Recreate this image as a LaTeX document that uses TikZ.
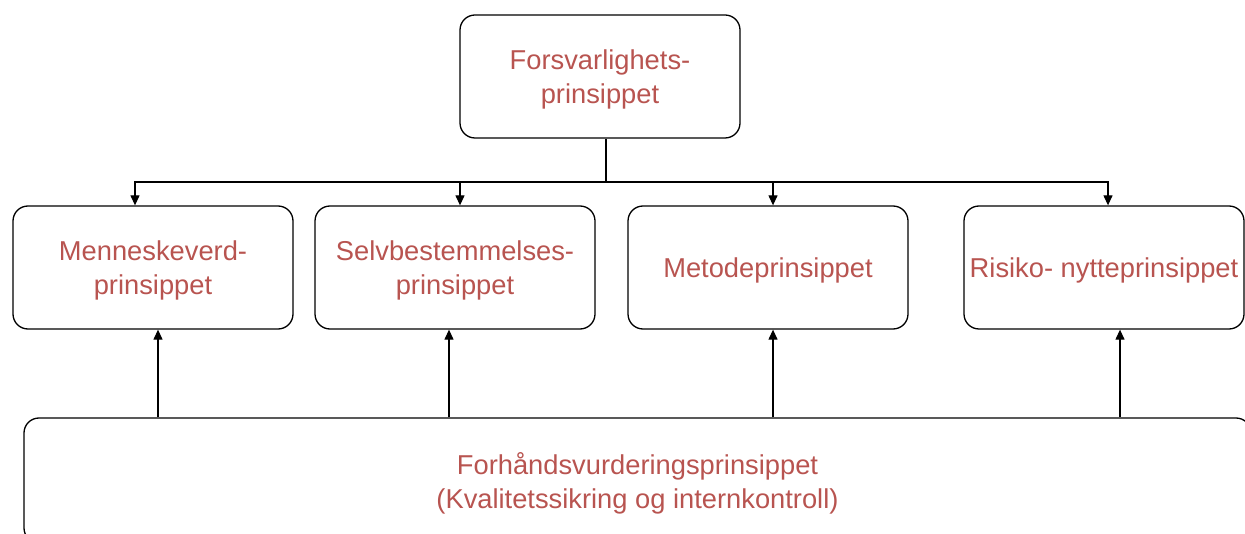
\documentclass[tikz,border=0pt]{standalone}
\usepackage{fontspec}
\setmainfont{Liberation Sans}
\usetikzlibrary{arrows.meta}
\definecolor{txtred}{HTML}{B85450}
\tikzset{
  box/.style={draw=black, line width=1.3pt, rounded corners=15pt, minimum width=280pt, minimum height=123pt,
    inner sep=0pt},
  txt/.style={align=center, text=txtred, inner sep=0pt, font=\fontsize{27.3pt}{34pt}\selectfont, yshift=-3pt},
  arr/.style={line width=1.2pt, -{Triangle[length=10pt,width=9pt]}},
}
\begin{document}
\begin{tikzpicture}[x=1pt,y=-1pt]
\useasboundingbox (0,0) rectangle (1245,534);
\node[box, label={[txt]center:{Forsvarlighets-\\prinsippet}}] (top) at (600,76.5) {};
\node[box, label={[txt]center:{Menneskeverd-\\prinsippet}}] (b1) at (153,267.5) {};
\node[box, label={[txt]center:{Selvbestemmelses-\\prinsippet}}] (b2) at (455,267.5) {};
\node[box, label={[txt]center:{Metodeprinsippet}}] (b3) at (768,267.5) {};
\node[box, label={[txt]center:{Risiko- nytteprinsippet}}] (b4) at (1104,267.5) {};
\node[box, minimum width=1227pt, minimum height=125pt,
  label={[txt]center:{Forhåndsvurderingsprinsippet\\(Kvalitetssikring og internkontroll)}}] (bot) at (637.5,480.5) {};
\coordinate (bus) at (606,182);
\draw[arr] ([xshift=6pt]top.south) -- (bus) -| ([xshift=-18pt]b1.north);
\draw[arr] (bus) -| ([xshift=5pt]b2.north);
\draw[arr] (bus) -| ([xshift=5pt]b3.north);
\draw[arr] (bus) -| ([xshift=4pt]b4.north);
\draw[arr] ([xshift=5pt]b1.south |- bot.north) -- ([xshift=5pt]b1.south);
\draw[arr] ([xshift=-6pt]b2.south |- bot.north) -- ([xshift=-6pt]b2.south);
\draw[arr] ([xshift=5pt]b3.south |- bot.north) -- ([xshift=5pt]b3.south);
\draw[arr] ([xshift=16pt]b4.south |- bot.north) -- ([xshift=16pt]b4.south);
\end{tikzpicture}
\end{document}
